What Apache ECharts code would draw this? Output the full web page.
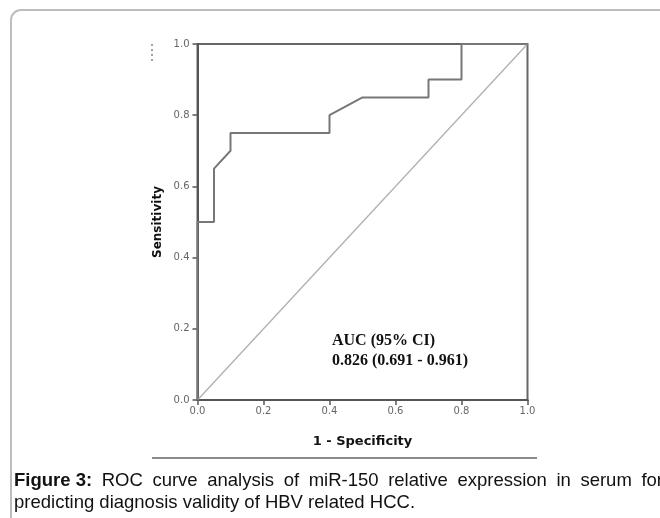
<!DOCTYPE html>
<html>
<head>
<meta charset="utf-8">
<script src="https://cdn.jsdelivr.net/npm/echarts@6/dist/echarts.min.js"></script>
<style>
html,body{margin:0;padding:0;background:#fff;}
#chart{width:660px;height:518px;}
</style>
</head>
<body>
<div id="chart"></div>
<script>
// ROC curve points (1 - specificity, sensitivity)
var fpr = [0, 0, 0.05, 0.05, 0.1, 0.1, 0.4, 0.4, 0.5, 0.7, 0.7, 0.8, 0.8, 1.0];
var tpr = [0, 0.5, 0.5, 0.65, 0.7, 0.75, 0.75, 0.8, 0.85, 0.85, 0.9, 0.9, 1.0, 1.0];
var refX = [0, 1];
var refY = [0, 1];
var ticks = [0, 0.2, 0.4, 0.6, 0.8, 1.0];
var aucLines = ['AUC (95% CI)', '0.826 (0.691 - 0.961)'];
var captionBold = 'Figure 3:';
var captionLine1 = 'ROC curve analysis of miR-150 relative expression in serum for';
var captionLine2 = 'predicting diagnosis validity of HBV related HCC.';

var chart = echarts.init(document.getElementById('chart'));

var roc = [];
for (var i = 0; i < fpr.length; i++) roc.push([fpr[i], tpr[i]]);
var diag = [];
for (var j = 0; j < refX.length; j++) diag.push([refX[j], refY[j]]);

var capFont = '18.5px "Liberation Sans"';

//caption line 1 is justified: spread words over the width
function captionWords(){
	var words = [captionBold].concat(captionLine1.split(' '));
	var ctx = document.createElement('canvas').getContext('2d');
	var widths = [], total = 0;
	for (var k = 0; k < words.length; k++) {
		ctx.font = (k == 0 ? 'bold ' : '') + capFont;
		widths.push(ctx.measureText(words[k]).width);
		total += widths[k];
	}
	var x0 = 14, x1 = 663;
	var gap = (x1 - x0 - total) / (words.length - 1);
	var out = [], x = x0;
	for (var m = 0; m < words.length; m++) {
		out.push({
			type: 'text', left: x, top: 471,
			style: {text: words[m], fill: '#111', font: (m == 0 ? 'bold ' : '') + capFont}
		});
		x += widths[m] + gap;
	}
	return out;
}

var graphics = [
	{type: 'rect', shape: {x: 11, y: 10, width: 700, height: 560, r: 10},
	 style: {fill: 'none', stroke: '#bdbdbd', lineWidth: 2}},
	{type: 'line', shape: {x1: 152, y1: 458, x2: 537, y2: 458},
	 style: {stroke: '#666', lineWidth: 1.5}},
	{type: 'line', shape: {x1: 152, y1: 44, x2: 152, y2: 64},
	 style: {stroke: '#444', lineWidth: 1, lineDash: [2, 3]}},
	{type: 'text', left: 332, top: 333,
	 style: {text: aucLines[0], fill: '#111', font: 'bold 16px "Liberation Serif"'}},
	{type: 'text', left: 332, top: 353,
	 style: {text: aucLines[1], fill: '#111', font: 'bold 16px "Liberation Serif"'}},
	{type: 'text', left: 14, top: 493,
	 style: {text: captionLine2, fill: '#111', font: capFont}}
].concat(captionWords());

var axisCommon = {
	type: 'value', min: 0, max: 1, interval: 0.2,
	splitLine: {show: false},
	axisLine: {show: true, lineStyle: {color: '#555', width: 2}},
	axisTick: {show: true, length: 5, lineStyle: {color: '#555', width: 1.5}},
	axisLabel: {
		color: '#666', fontSize: 10, fontFamily: 'DejaVu Sans',
		formatter: function(v){ return v.toFixed(1); }
	}
};

option = {
	animation: false,
	backgroundColor: '#fff',
	grid: {
		left: 197.5, right: 132.5, top: 44, bottom: 118,
		show: true, borderColor: '#666', borderWidth: 2, backgroundColor: 'transparent'
	},
	xAxis: echarts.util.merge({
		name: '1 - Specificity', nameLocation: 'middle', nameGap: 35,
		nameTextStyle: {color: '#111', fontSize: 13, fontWeight: 'bold', fontFamily: 'DejaVu Sans'},
		axisLabel: {margin: 6}
	}, axisCommon, false),
	yAxis: echarts.util.merge({
		name: 'Sensitivity', nameLocation: 'middle', nameGap: 34,
		nameTextStyle: {color: '#111', fontSize: 12, fontWeight: 'bold', fontFamily: 'DejaVu Sans'},
		axisLabel: {margin: 8}
	}, axisCommon, false),
	series: [
		{
			type: 'line', data: diag, symbol: 'none', silent: true,
			lineStyle: {color: '#b0b0b0', width: 1.3}
		},
		{
			type: 'line', data: roc, symbol: 'none', silent: true,
			lineStyle: {color: '#777', width: 2}
		}
	],
	graphic: graphics
};
chart.setOption(option);
</script>
</body>
</html>
